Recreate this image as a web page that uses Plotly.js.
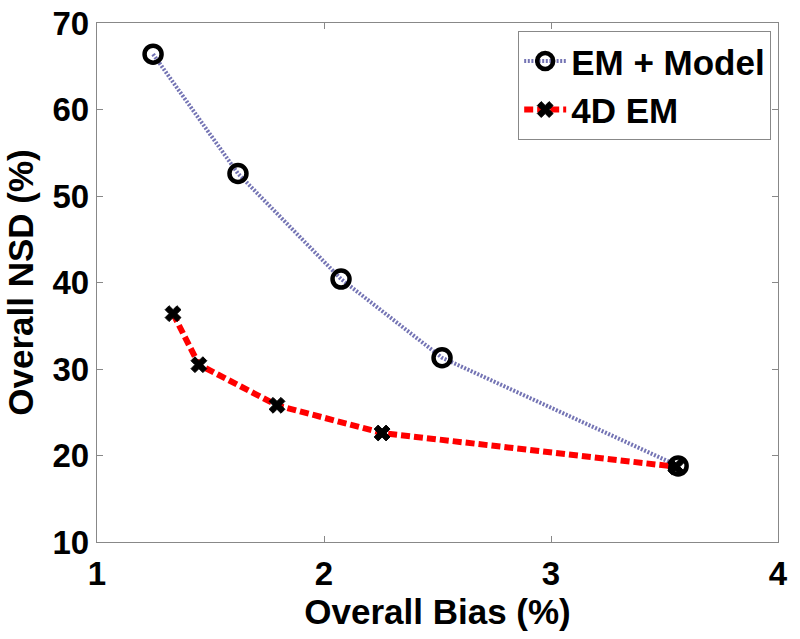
<!DOCTYPE html>
<html>
<head>
<meta charset="utf-8">
<script src="https://cdn.plot.ly/plotly-3.0.1.min.js"></script>
<style>html,body{margin:0;padding:0;background:#fff;}#chart{width:800px;height:639px;}</style>
</head>
<body>
<div id="chart"></div>
<script>
const seriesNames = ["EM + Model", "4D EM"];
const emModelBias = [1.247, 1.621, 2.075, 2.52, 3.56];
const emModelNSD  = [66.4, 52.6, 40.4, 31.3, 18.8];
const em4dBias = [1.335, 1.449, 1.793, 2.256, 3.55];
const em4dNSD  = [36.4, 30.5, 25.8, 22.6, 18.7];
const xTicks = [1, 2, 3, 4];
const yTicks = [10, 20, 30, 40, 50, 60, 70];

const font = "Liberation Sans, Arial, sans-serif";

const traces = [
  {
    x: emModelBias, y: emModelNSD, name: seriesNames[0],
    mode: "lines+markers", type: "scatter",
    line: {color: "#7474b4", width: 4, dash: "2px,1.6px"},
    marker: {symbol: "circle-open", size: 17, color: "black", line: {width: 4.5, color: "black"}}
  },
  {
    x: em4dBias, y: em4dNSD, name: seriesNames[1],
    mode: "lines+markers", type: "scatter",
    line: {color: "#ff0000", width: 6, dash: "9px,4px"},
    marker: {symbol: "x", size: 14, color: "black", line: {width: 1, color: "black"}}
  }
];

const axisCommon = {
  showgrid: false, zeroline: false, showline: true, mirror: "ticks",
  linecolor: "#888", linewidth: 1.2, ticks: "inside", ticklen: 6, tickcolor: "#888",
  tickfont: {family: font, size: 33, color: "black", weight: "bold"}
};

const layout = {
  width: 800, height: 639,
  margin: {l: 97, r: 22, t: 23, b: 97},
  paper_bgcolor: "white", plot_bgcolor: "white",
  showlegend: true,
  legend: {
    x: 0.99, xanchor: "right", y: 0.985, yanchor: "top",
    bgcolor: "white", bordercolor: "#888", borderwidth: 1,
    font: {family: font, size: 35, color: "black", weight: "bold"},
    itemwidth: 42, tracegroupgap: 0
  },
  xaxis: Object.assign({}, axisCommon, {
    range: [1, 4], tickvals: xTicks, ticktext: xTicks.map(String),
    ticklabelstandoff: 2,
    title: {text: "Overall Bias (%)", font: {family: font, size: 35, color: "black", weight: "bold"}, standoff: 4}
  }),
  yaxis: Object.assign({}, axisCommon, {
    range: [10, 70], tickvals: yTicks, ticktext: yTicks.map(String),
    title: {text: "Overall NSD (%)", font: {family: font, size: 35, color: "black", weight: "bold"}, standoff: 8}
  })
};

Plotly.newPlot("chart", traces, layout, {displayModeBar: false, staticPlot: true});
</script>
</body>
</html>
